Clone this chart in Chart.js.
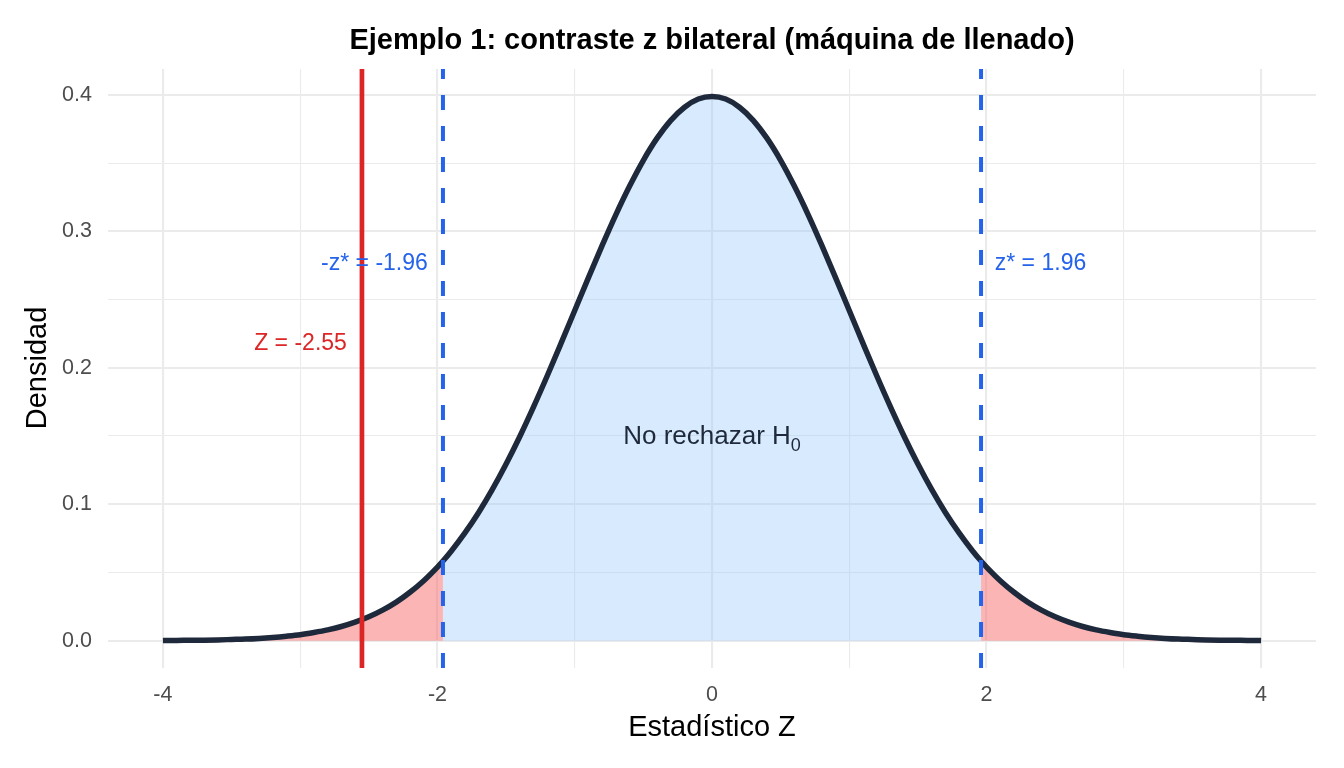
<!DOCTYPE html>
<html>
<head>
<meta charset="utf-8">
<script src="https://cdn.jsdelivr.net/npm/chart.js@4.4.1/dist/chart.umd.min.js"></script>
<style>
  html, body { margin: 0; padding: 0; background: #ffffff; }
  #wrap { width: 1344px; height: 768px; position: relative; }
</style>
</head>
<body>
<div id="wrap"><canvas id="grafico"></canvas></div>
<script>
// Datos: densidad normal estandar
const zValores = [
  -4.0, -3.9, -3.8, -3.7, -3.6, -3.5, -3.4, -3.3, -3.2, -3.1,
  -3.0, -2.9, -2.8, -2.7, -2.6, -2.5, -2.4, -2.3, -2.2, -2.1,
  -2.0, -1.96, -1.9, -1.8, -1.7, -1.6, -1.5, -1.4, -1.3, -1.2, -1.1,
  -1.0, -0.9, -0.8, -0.7, -0.6, -0.5, -0.4, -0.3, -0.2, -0.1,
  0.0, 0.1, 0.2, 0.3, 0.4, 0.5, 0.6, 0.7, 0.8, 0.9,
  1.0, 1.1, 1.2, 1.3, 1.4, 1.5, 1.6, 1.7, 1.8, 1.9, 1.96,
  2.0, 2.1, 2.2, 2.3, 2.4, 2.5, 2.6, 2.7, 2.8, 2.9,
  3.0, 3.1, 3.2, 3.3, 3.4, 3.5, 3.6, 3.7, 3.8, 3.9, 4.0
];
const densidad = [
  0.0001, 0.0002, 0.0003, 0.0004, 0.0006, 0.0009, 0.0012, 0.0017, 0.0024, 0.0033,
  0.0044, 0.0060, 0.0079, 0.0104, 0.0136, 0.0175, 0.0224, 0.0283, 0.0355, 0.0440,
  0.0540, 0.0584, 0.0656, 0.0790, 0.0940, 0.1109, 0.1295, 0.1497, 0.1714, 0.1942, 0.2179,
  0.2420, 0.2661, 0.2897, 0.3123, 0.3332, 0.3521, 0.3683, 0.3814, 0.3910, 0.3970,
  0.3989, 0.3970, 0.3910, 0.3814, 0.3683, 0.3521, 0.3332, 0.3123, 0.2897, 0.2661,
  0.2420, 0.2179, 0.1942, 0.1714, 0.1497, 0.1295, 0.1109, 0.0940, 0.0790, 0.0656, 0.0584,
  0.0540, 0.0440, 0.0355, 0.0283, 0.0224, 0.0175, 0.0136, 0.0104, 0.0079, 0.0060,
  0.0044, 0.0033, 0.0024, 0.0017, 0.0012, 0.0009, 0.0006, 0.0004, 0.0003, 0.0002, 0.0001
];
const zCritico = 1.96;
const zObservado = -2.55;
const xTicks = [-4, -3, -2, -1, 0, 1, 2, 3, 4];
const yTicks = [0, 0.05, 0.1, 0.15, 0.2, 0.25, 0.3, 0.35, 0.4];
const xLimites = [-4.4, 4.4];
const yLimites = [-0.02, 0.419];

// Etiquetas de texto (posicion en unidades de datos)
const etiquetas = [
  { texto: '-z* = -1.96', x: -2.07, y: 0.278, color: '#2563EB', align: 'right' },
  { texto: 'z* = 1.96', x: 2.06, y: 0.278, color: '#2563EB', align: 'left' },
  { texto: 'Z = -2.55', x: -2.66, y: 0.219, color: '#DC2626', align: 'right' }
];

const fuente = '"Liberation Sans", Arial, sans-serif';

function puntos(filtro) {
  const out = [];
  zValores.forEach(function (z, i) {
    if (filtro(z)) out.push({ x: z, y: densidad[i] });
  });
  return out;
}

const curva = puntos(function () { return true; });
const colaIzq = puntos(function (z) { return z <= -zCritico; });
const centro = puntos(function (z) { return z >= -zCritico && z <= zCritico; });
const colaDer = puntos(function (z) { return z >= zCritico; });

function vertical(x) {
  return [{ x: x, y: yLimites[0] }, { x: x, y: yLimites[1] }];
}

// Plugin para titulo, titulos de ejes y anotaciones
const textos = {
  id: 'textos',
  afterDraw(chart) {
    const ctx = chart.ctx;
    const sx = chart.scales.x;
    const sy = chart.scales.y;
    ctx.save();

    ctx.fillStyle = '#000000';
    ctx.font = 'bold 29px ' + fuente;
    ctx.textAlign = 'center';
    ctx.textBaseline = 'middle';
    ctx.fillText('Ejemplo 1: contraste z bilateral (máquina de llenado)', 712, 41);

    ctx.font = '29px ' + fuente;
    ctx.fillText('Estadístico Z', 712, 728);
    ctx.save();
    ctx.translate(38, 368);
    ctx.rotate(-Math.PI / 2);
    ctx.fillText('Densidad', 0, 0);
    ctx.restore();

    ctx.font = '23px ' + fuente;
    etiquetas.forEach(function (e) {
      ctx.fillStyle = e.color;
      ctx.textAlign = e.align;
      ctx.fillText(e.texto, sx.getPixelForValue(e.x), sy.getPixelForValue(e.y) + 2);
    });

    // "No rechazar H0" con subindice
    ctx.fillStyle = '#1E293B';
    ctx.font = '26px ' + fuente;
    const base = 'No rechazar H';
    const wBase = ctx.measureText(base).width;
    ctx.font = '18px ' + fuente;
    const wSub = ctx.measureText('0').width;
    const cx = sx.getPixelForValue(0);
    const cy = sy.getPixelForValue(0.15) + 1;
    const x0 = cx - (wBase + wSub) / 2;
    ctx.textAlign = 'left';
    ctx.font = '26px ' + fuente;
    ctx.fillText(base, x0, cy);
    ctx.font = '18px ' + fuente;
    ctx.fillText('0', x0 + wBase, cy + 9);

    ctx.restore();
  }
};

const ctx = document.getElementById('grafico').getContext('2d');
new Chart(ctx, {
  type: 'line',
  data: {
    datasets: [
      { data: vertical(zObservado), borderColor: '#DC2626', borderWidth: 4.7, pointRadius: 0, fill: false, order: 0 },
      { data: vertical(-zCritico), borderColor: '#2563EB', borderWidth: 4, borderDash: [15, 16], pointRadius: 0, fill: false, order: 0 },
      { data: vertical(zCritico), borderColor: '#2563EB', borderWidth: 4, borderDash: [15, 16], pointRadius: 0, fill: false, order: 0 },
      { data: curva, borderColor: '#1E293B', borderWidth: 5.5, pointRadius: 0, fill: false, cubicInterpolationMode: 'monotone', order: 1 },
      { data: colaIzq, borderWidth: 0, pointRadius: 0, fill: 'origin', backgroundColor: 'rgba(247,100,100,0.48)', cubicInterpolationMode: 'monotone', order: 2 },
      { data: centro, borderWidth: 0, pointRadius: 0, fill: 'origin', backgroundColor: 'rgba(147,197,253,0.36)', cubicInterpolationMode: 'monotone', order: 2 },
      { data: colaDer, borderWidth: 0, pointRadius: 0, fill: 'origin', backgroundColor: 'rgba(247,100,100,0.48)', cubicInterpolationMode: 'monotone', order: 2 }
    ]
  },
  options: {
    responsive: true,
    maintainAspectRatio: false,
    animation: false,
    devicePixelRatio: 1,
    layout: { padding: { left: 0, right: 28, top: 69, bottom: 0 } },
    plugins: {
      legend: { display: false },
      title: { display: false },
      tooltip: { enabled: false }
    },
    scales: {
      x: {
        type: 'linear',
        min: xLimites[0],
        max: xLimites[1],
        afterBuildTicks: function (scale) {
          scale.ticks = xTicks.map(function (v) { return { value: v }; });
        },
        afterFit: function (scale) { scale.height = 100; },
        border: { display: false },
        grid: {
          drawTicks: false,
          color: '#EBEBEB',
          lineWidth: function (c) { return c.tick && c.tick.value % 2 === 0 ? 2.1 : 1.1; }
        },
        ticks: {
          autoSkip: false,
          maxRotation: 0,
          padding: 14,
          color: '#4D4D4D',
          font: { family: fuente, size: 21.5 },
          callback: function (v) { return v % 2 === 0 ? String(v) : ''; }
        }
      },
      y: {
        min: yLimites[0],
        max: yLimites[1],
        afterBuildTicks: function (scale) {
          scale.ticks = yTicks.map(function (v) { return { value: v }; });
        },
        afterFit: function (scale) { scale.width = 108; },
        border: { display: false },
        grid: {
          drawTicks: false,
          color: '#EBEBEB',
          lineWidth: function (c) { return c.tick && Math.round(c.tick.value * 100) % 10 === 0 ? 2.1 : 1.1; }
        },
        ticks: {
          padding: 16,
          color: '#4D4D4D',
          font: { family: fuente, size: 21.5 },
          callback: function (v) { return Math.round(v * 100) % 10 === 0 ? v.toFixed(1) : ''; }
        }
      }
    }
  },
  plugins: [textos]
});
</script>
</body>
</html>
